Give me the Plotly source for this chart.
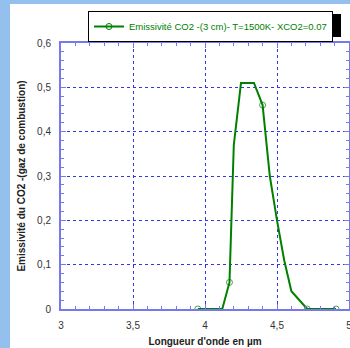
import plotly.graph_objects as go

# Data
wavelength = [3.95, 4.12, 4.17, 4.20, 4.25, 4.34, 4.40, 4.45, 4.50, 4.55, 4.60, 4.71, 4.91]
emissivity = [0.0, 0.0, 0.06, 0.37, 0.51, 0.51, 0.46, 0.30, 0.20, 0.11, 0.04, 0.0, 0.0]
has_marker = [True, False, True, False, False, False, True, False, False, False, False, True, True]
series_name = "Emissivité CO2 -(3 cm)- T=1500K- XCO2=0.07"
x_title = "Longueur d'onde en µm"
y_title = "Emissivité du CO2 -(gaz de combustion)"

GREEN = "#008000"
AXIS = "#7878ee"
GRID = "#3434e8"
FONT = "Liberation Sans, Arial, sans-serif"

W, H = 350, 348
L, R, T, B = 61, 1, 43, 39
pw, ph = W - L - R, H - T - B

def px(x):
    return (x - L) / pw

def py(y):
    return (H - B - y) / ph

fig = go.Figure()
fig.add_trace(go.Scatter(
    x=wavelength, y=emissivity, mode="lines+markers",
    line=dict(color=GREEN, width=2),
    marker=dict(symbol="circle-open", color=GREEN, size=[6 if m else 0 for m in has_marker],
                line=dict(width=1, color=GREEN)),
    showlegend=False, hoverinfo="x+y",
))
fig.add_trace(go.Scatter(
    x=[None], y=[None], mode="lines+markers", name=series_name,
    line=dict(color=GREEN, width=2),
    marker=dict(symbol="circle-open", color=GREEN, size=6, line=dict(width=1, color=GREEN)),
))

shapes = [
    # left and top light-blue bands of the window
    dict(type="rect", xref="paper", yref="paper", x0=px(0), x1=px(10), y0=py(H), y1=py(0),
         fillcolor="#93c0ec", line=dict(width=0), layer="below"),
    dict(type="rect", xref="paper", yref="paper", x0=px(0), x1=px(W), y0=py(4), y1=py(0),
         fillcolor="#93c0ec", line=dict(width=0), layer="below"),
    # legend drop shadow
    dict(type="rect", xref="paper", yref="paper", x0=px(91), x1=px(341), y0=py(37), y1=py(14),
         fillcolor="black", line=dict(width=0), layer="above"),
]

axis_common = dict(
    showline=True, linecolor=AXIS, linewidth=2, mirror="ticks",
    ticks="inside", ticklen=5, tickwidth=1, tickcolor=AXIS,
    showgrid=True, gridcolor=GRID, griddash="dot", gridwidth=1,
    zeroline=False, ticklabeloverflow="allow",
    tickfont=dict(family=FONT, size=10, color="#333333"),
)

fig.update_xaxes(
    range=[3, 5], dtick=0.5, tick0=3,
    minor=dict(dtick=0.1, ticks="inside", ticklen=3, tickcolor=AXIS, showgrid=False),
    title=dict(text="<b>" + x_title + "</b>", font=dict(family=FONT, size=10, color="#222222"), standoff=8),
    ticklabelstandoff=6,
    **axis_common,
)
fig.update_yaxes(
    range=[0, 0.6], dtick=0.1, tick0=0,
    minor=dict(dtick=0.02, ticks="inside", ticklen=3, tickcolor=AXIS, showgrid=False),
    title=dict(text="<b>" + y_title + "</b>", font=dict(family=FONT, size=10, color="#222222"), standoff=10),
    ticklabelstandoff=6,
    **axis_common,
)

fig.update_layout(
    width=W, height=H,
    margin=dict(l=L, r=R, t=T, b=B, autoexpand=False),
    paper_bgcolor="white", plot_bgcolor="white",
    separators=", ",
    font=dict(family=FONT, size=10),
    shapes=shapes,
    legend=dict(
        x=px(88), y=py(11), xanchor="left", yanchor="top",
        bgcolor="white", bordercolor="black", borderwidth=1,
        font=dict(family=FONT, size=9.5, color=GREEN),
        itemwidth=30,
    ),
)

fig.write_html("out.html", config={"displayModeBar": False},
               post_script="document.body.style.margin='0';document.body.style.overflow='hidden';")
